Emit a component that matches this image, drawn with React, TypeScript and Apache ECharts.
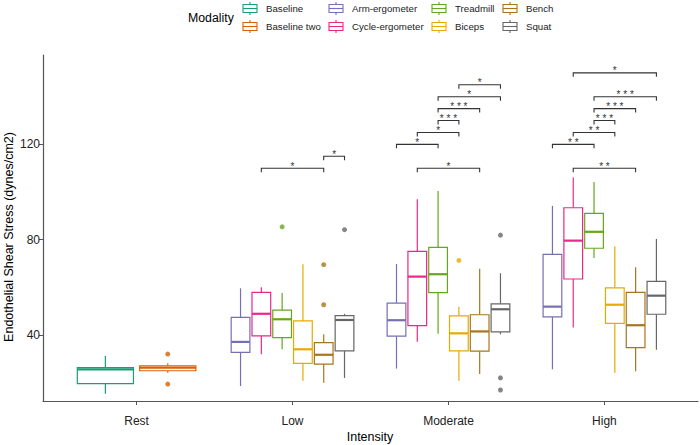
import { useEffect, useRef } from 'react'
import * as echarts from 'echarts'

const intensities = ['Rest', 'Low', 'Moderate', 'High']
const modalities = [
  'Baseline',
  'Baseline two',
  'Arm-ergometer',
  'Cycle-ergometer',
  'Treadmill',
  'Biceps',
  'Bench',
  'Squat',
]
const modalityColors = ['#1B9E77', '#D95F02', '#7570B3', '#E7298A', '#66A61E', '#E6AB02', '#A6761D', '#666666']

// [min, Q1, median, Q3, max] per intensity, null = not in that group
type Stats = number[] | null
const baseline: Stats[] = [[15.3, 19.6, 25.6, 26.3, 31.2], null, null, null]
const baselineTwo: Stats[] = [[24.2, 25.0, 26.3, 27.1, 28.1], null, null, null]
const armErgometer: Stats[] = [null, [18.6, 32.7, 37.1, 47.4, 59.6], [25.9, 39.5, 46.2, 53.4, 69.8], [25.6, 47.6, 51.9, 73.8, 94.2]]
const cycleErgometer: Stats[] = [null, [31.9, 39.6, 48.9, 57.9, 60.0], [37.2, 43.9, 64.5, 75.1, 97.0], [43.1, 63.5, 79.6, 93.4, 106.1]]
const treadmill: Stats[] = [null, [34.0, 38.9, 46.6, 50.4, 57.6], [40.5, 57.8, 65.5, 76.8, 100.4], [72.3, 76.4, 83.3, 91.0, 104.2]]
const biceps: Stats[] = [null, [20.8, 28.1, 34.0, 45.9, 69.7], [20.8, 33.3, 40.7, 48.0, 51.9], [24.2, 44.9, 52.7, 59.8, 77.2]]
const bench: Stats[] = [null, [20.0, 27.8, 31.7, 36.8, 40.3], [23.6, 33.2, 41.5, 48.5, 67.8], [24.8, 34.7, 44.1, 57.9, 68.4]]
const squat: Stats[] = [null, [22.0, 33.3, 46.3, 48.1, 48.9], [40.3, 41.3, 50.8, 53.1, 65.9], [33.8, 48.7, 56.5, 62.5, 80.3]]
const boxStats = [baseline, baselineTwo, armErgometer, cycleErgometer, treadmill, biceps, bench, squat]

// outliers: [intensity index, value]
const outliers: number[][][] = [
  [],
  [[0, 32.0], [0, 19.4]],
  [],
  [],
  [[1, 85.4]],
  [[2, 71.3]],
  [[1, 69.5], [1, 52.7]],
  [[1, 84.2], [2, 81.9], [2, 22.0], [2, 16.9]],
]

// significance brackets: [intensity index, from, to, y, stars]
const brackets: [number, string, string, number, string][] = [
  [1, 'Cycle-ergometer', 'Bench', 110, '*'],
  [1, 'Bench', 'Squat', 115, '*'],
  [2, 'Cycle-ergometer', 'Bench', 110, '*'],
  [2, 'Arm-ergometer', 'Treadmill', 120, '*'],
  [2, 'Cycle-ergometer', 'Biceps', 125, '*'],
  [2, 'Treadmill', 'Biceps', 130, '* * *'],
  [2, 'Treadmill', 'Bench', 135, '* * *'],
  [2, 'Treadmill', 'Squat', 140, '*'],
  [2, 'Biceps', 'Squat', 145, '*'],
  [3, 'Cycle-ergometer', 'Bench', 110, '* *'],
  [3, 'Arm-ergometer', 'Treadmill', 120, '* *'],
  [3, 'Cycle-ergometer', 'Biceps', 125, '* *'],
  [3, 'Treadmill', 'Biceps', 130, '* * *'],
  [3, 'Treadmill', 'Bench', 135, '* * *'],
  [3, 'Treadmill', 'Squat', 140, '* * *'],
  [3, 'Cycle-ergometer', 'Squat', 150, '*'],
]

const yTicks = [40, 80, 120]
const yMin = 12.3
const yMax = 157.5

const FONT = "'Liberation Sans', Arial, sans-serif"

// ggplot-like dodge: 0.8 of a category shared by the boxes present, box = 90% of slot
function dodge(m: number, i: number) {
  const present = boxStats.map((s, k) => (s[i] ? k : -1)).filter((k) => k >= 0)
  const n = present.length
  const slot = 0.8 / n
  const k = present.indexOf(m)
  return { x: i + 1 + (k - (n - 1) / 2) * slot, width: slot * 0.9 }
}

export default function App() {
  const chartRef = useRef<HTMLDivElement>(null)

  useEffect(() => {
    document.body.style.margin = '0'
    if (!chartRef.current) return
    const chart = echarts.init(chartRef.current, undefined, { renderer: 'svg' })

    const boxSeries = modalities.map((name, m) => {
      const rows: number[][] = []
      boxStats[m].forEach((s, i) => {
        if (!s) return
        const d = dodge(m, i)
        rows.push([d.x, ...s, d.width])
      })
      const color = modalityColors[m]
      return {
        name,
        type: 'custom',
        data: rows,
        renderItem: (_p: any, api: any) => {
          const x = api.value(0)
          const [cx, yMinPx] = api.coord([x, api.value(1)])
          const yQ1 = api.coord([x, api.value(2)])[1]
          const yMed = api.coord([x, api.value(3)])[1]
          const yQ3 = api.coord([x, api.value(4)])[1]
          const yMaxPx = api.coord([x, api.value(5)])[1]
          const half = api.size([api.value(6), 0])[0] / 2
          const lineStyle = { stroke: color, lineWidth: 1.2 }
          return {
            type: 'group',
            children: [
              { type: 'line', shape: { x1: cx, y1: yQ3, x2: cx, y2: yMaxPx }, style: lineStyle },
              { type: 'line', shape: { x1: cx, y1: yQ1, x2: cx, y2: yMinPx }, style: lineStyle },
              {
                type: 'rect',
                shape: { x: cx - half, y: yQ3, width: half * 2, height: yQ1 - yQ3 },
                style: { fill: '#fff', stroke: color, lineWidth: 1.2 },
              },
              {
                type: 'line',
                shape: { x1: cx - half, y1: yMed, x2: cx + half, y2: yMed },
                style: { stroke: color, lineWidth: 2.2 },
              },
            ],
          }
        },
        z: 2,
      }
    })

    const outlierSeries = modalities.map((name, m) => ({
      name,
      type: 'scatter',
      symbolSize: 5,
      itemStyle: { color: modalityColors[m] },
      data: outliers[m].map(([i, v]) => [dodge(m, i).x, v]),
      z: 3,
    }))

    const bracketSeries = {
      type: 'custom',
      data: brackets.map(([i, from, to, y]) => [
        dodge(modalities.indexOf(from), i).x,
        dodge(modalities.indexOf(to), i).x,
        y,
      ]),
      renderItem: (p: any, api: any) => {
        const a = api.coord([api.value(0), api.value(2)])
        const b = api.coord([api.value(1), api.value(2)])
        return {
          type: 'group',
          children: [
            {
              type: 'polyline',
              shape: { points: [[a[0], a[1] + 4], a, b, [b[0], b[1] + 4]] },
              style: { stroke: '#333', lineWidth: 1.1, fill: 'none' },
            },
            {
              type: 'text',
              x: (a[0] + b[0]) / 2,
              y: a[1] - 2,
              style: {
                text: brackets[p.dataIndex][4],
                fontSize: 10,
                fontFamily: FONT,
                fill: '#333',
                align: 'center',
                verticalAlign: 'middle',
              },
            },
          ],
        }
      },
      z: 4,
    }

    // legend drawn as small boxplot glyphs, column by column
    const legendCols = [243, 329, 432, 503]
    const legendRows = [8.5, 26.5]
    const legendItems = modalities.map((name, m) => {
      const x0 = legendCols[Math.floor(m / 2)]
      const yc = legendRows[m % 2]
      const c = modalityColors[m]
      const st = { stroke: c, lineWidth: 1.1 }
      return {
        type: 'group',
        children: [
          { type: 'line', shape: { x1: x0 + 7, y1: yc - 6.5, x2: x0 + 7, y2: yc - 4 }, style: st },
          { type: 'line', shape: { x1: x0 + 7, y1: yc + 4, x2: x0 + 7, y2: yc + 6.5 }, style: st },
          { type: 'rect', shape: { x: x0, y: yc - 4, width: 14, height: 8 }, style: { fill: '#fff', ...st } },
          { type: 'line', shape: { x1: x0, y1: yc, x2: x0 + 14, y2: yc }, style: st },
          {
            type: 'text',
            x: x0 + 23,
            y: yc,
            style: { text: name, fontSize: 9.7, fontFamily: FONT, fill: '#222', verticalAlign: 'middle' },
          },
        ],
      }
    })

    const option: any = {
      animation: false,
      backgroundColor: '#fff',
      grid: { left: 43, right: 2, top: 55, bottom: 44, containLabel: false, outerBoundsMode: 'none' },
      xAxis: {
        type: 'value',
        min: 0.4,
        max: 4.6,
        splitLine: { show: false },
        axisLine: { show: true, onZero: false, lineStyle: { color: '#555', width: 1.2 } },
        axisTick: { show: true, length: 4, customValues: [1, 2, 3, 4], lineStyle: { color: '#555' } },
        axisLabel: {
          customValues: [1, 2, 3, 4],
          formatter: (v: number) => intensities[Math.round(v) - 1] ?? '',
          color: '#222',
          fontSize: 12,
          fontFamily: FONT,
          margin: 14,
        },
      },
      yAxis: {
        type: 'value',
        min: yMin,
        max: yMax,
        splitLine: { show: false },
        axisLine: { show: true, onZero: false, lineStyle: { color: '#555', width: 1.2 } },
        axisTick: { show: true, length: 4, customValues: yTicks, lineStyle: { color: '#555' } },
        axisLabel: {
          customValues: yTicks,
          color: '#222',
          fontSize: 12,
          fontFamily: FONT,
          margin: 3,
        },
      },
      graphic: [
        {
          type: 'text',
          x: 8.5,
          y: 237,
          rotation: Math.PI / 2,
          style: {
            text: 'Endothelial Shear Stress (dynes/cm2)',
            fontSize: 12.5,
            fontFamily: FONT,
            fill: '#000',
            align: 'center',
            verticalAlign: 'middle',
          },
        },
        {
          type: 'text',
          x: 370,
          y: 437,
          style: {
            text: 'Intensity',
            fontSize: 12.5,
            fontFamily: FONT,
            fill: '#000',
            align: 'center',
            verticalAlign: 'middle',
          },
        },
        {
          type: 'text',
          x: 188,
          y: 18,
          style: { text: 'Modality', fontSize: 12.3, fontFamily: FONT, fill: '#000', verticalAlign: 'middle' },
        },
        ...legendItems,
      ],
      series: [...boxSeries, ...outlierSeries, bracketSeries],
    }

    chart.setOption(option)
    return () => chart.dispose()
  }, [])

  return <div ref={chartRef} style={{ width: 700, height: 445 }} />
}
